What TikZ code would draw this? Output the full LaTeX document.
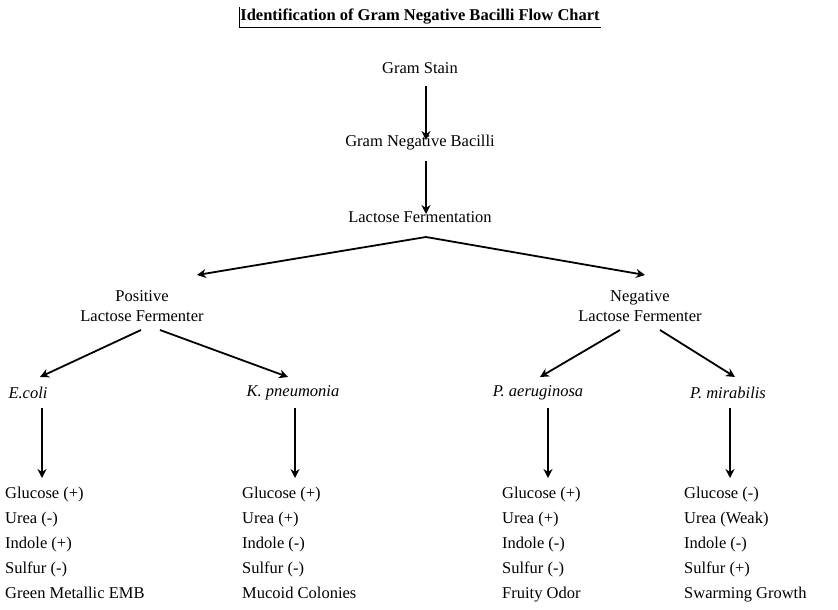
\documentclass[tikz,border=0pt]{standalone}
\usepackage{fontspec}
\setmainfont{Liberation Serif}
\usetikzlibrary{positioning,arrows.meta}
\begin{document}
\begin{tikzpicture}[x=1pt,y=-1pt]
    \tikzstyle{every node}=[font=\fontsize{16.5}{20}\selectfont,inner sep=1pt];
    \tikzstyle{arr}=[-{Stealth[length=9pt,width=9pt]},line width=1.8pt];
    \tikzstyle{lst}=[align=left,anchor=north west,font=\fontsize{16.5}{25}\selectfont];
    \useasboundingbox (0,0) rectangle (838,610);
    \node at (420,17) (title) {\textbf{Identification of Gram Negative Bacilli Flow Chart}};
    \draw[line width=0.6pt] (title.south west)++(0,1) -- ([yshift=-1pt]title.south east);
    \draw[line width=0.6pt] (title.south west)++(0,1) -- ([yshift=1pt]title.north west);
    \node at (420,68)  (stain) {Gram Stain};
    \node at (420,143) (gnb) {Gram Negative Bacilli};
    \node at (420,217) (lac) {Lactose Fermentation};
    \node[align=center] at (142,306) (pos) {Positive\\Lactose Fermenter};
    \node[align=center] at (640,306) (neg) {Negative\\Lactose Fermenter};
    \node at (28,393) (ecoli) {\textit{E.coli}};
    \node at (293,393) (kpn) {\textit{K. pneumonia}};
    \node at (538,393) (pae) {\textit{P. aeruginosa}};
    \node at (728,393) (pmi) {\textit{P. mirabilis}};
    \node[lst] at (4,486) (l1) {Glucose (+)\\Urea (-)\\Indole (+)\\Sulfur (-)\\Green Metallic EMB};
    \node[lst] at (241,486) (l2) {Glucose (+)\\Urea (+)\\Indole (-)\\Sulfur (-)\\Mucoid Colonies};
    \node[lst] at (501,486) (l3) {Glucose (+)\\Urea (+)\\Indole (-)\\Sulfur (-)\\Fruity Odor};
    \node[lst] at (683,486) (l4) {Glucose (-)\\Urea (Weak)\\Indole (-)\\Sulfur (+)\\Swarming Growth};
    \coordinate (lt) at (426,237);
    \draw[arr] (426,86) -- (426,140);
    \draw[arr] (426,161) -- (426,214);
    \draw[arr] (lt) -- (197,275);
    \draw[arr] (lt) -- (645,275);
    \draw[arr] (141,330) -- (40,377);
    \draw[arr] (160,330) -- (288,377);
    \draw[arr] (620,330) -- (540,377);
    \draw[arr] (660,330) -- (735,377);
    \draw[arr] (42,408) -- (42,478);
    \draw[arr] (295,408) -- (295,478);
    \draw[arr] (548,408) -- (548,478);
    \draw[arr] (730,408) -- (730,478);
\end{tikzpicture}
\end{document}
